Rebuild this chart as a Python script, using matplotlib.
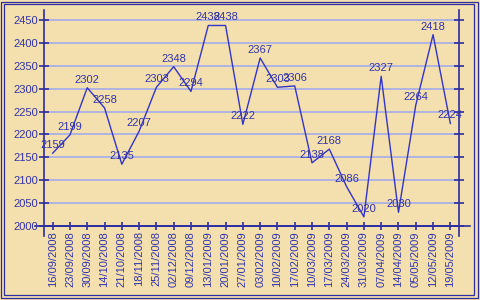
import matplotlib
matplotlib.use('Agg')
import matplotlib.pyplot as plt
from matplotlib.patches import Rectangle

dates = ['16/09/2008', '23/09/2008', '30/09/2008', '14/10/2008', '21/10/2008',
         '18/11/2008', '25/11/2008', '02/12/2008', '09/12/2008', '13/01/2009',
         '20/01/2009', '27/01/2009', '03/02/2009', '10/02/2009', '17/02/2009',
         '10/03/2009', '17/03/2009', '24/03/2009', '31/03/2009', '07/04/2009',
         '14/04/2009', '05/05/2009', '12/05/2009', '19/05/2009']
values = [2159, 2199, 2302, 2258, 2135, 2207, 2303, 2348, 2294, 2438, 2438, 2222,
          2367, 2303, 2306, 2138, 2168, 2086, 2020, 2327, 2030, 2264, 2418, 2224]
yticks = [2000, 2050, 2100, 2150, 2200, 2250, 2300, 2350, 2400, 2450]

plt.rcParams['font.family'] = ['Liberation Sans', 'DejaVu Sans']
TXT = '#3333aa'
AX = '#2d2da0'
LINE = '#3434c8'
GRID = '#aab0e4'
BG = '#f3e0ae'

W, H = 480, 300
fig = plt.figure(figsize=(4.8, 3.0), dpi=100)
fig.patch.set_facecolor(BG)

ax = fig.add_axes([44 / W, 1 - 236 / H, (459 - 44) / W, 226 / H])
ax.set_facecolor('none')
n = len(dates)
xs = list(range(n))
ax.set_xlim(-0.5, n - 0.5)
ax.set_ylim(1978.2, 2471.8)

ax.spines['top'].set_visible(False)
for s in ['left', 'right', 'bottom']:
    ax.spines[s].set_color(AX)
    ax.spines[s].set_linewidth(1.2)
ax.spines['bottom'].set_position(('data', 2000))

# extend x-axis line beyond the plot edges
ax.plot([-1.02, n + 0.14], [2000, 2000], color=AX, lw=1.2, clip_on=False, zorder=3)

ax.set_yticks(yticks)
ax.set_yticklabels([str(v) for v in yticks])
ax.set_xticks(xs)
ax.set_xticklabels(dates, rotation=90)
ax.tick_params(axis='y', left=True, right=True, direction='inout', length=7.2,
               width=1.2, color=AX, labelcolor=TXT, labelsize=8, pad=0.8)
ax.tick_params(axis='x', direction='inout', length=5.8, width=1.2, color=AX,
               labelcolor=TXT, labelsize=8, pad=0.8)

ax.yaxis.grid(True, color=GRID, lw=1.3)
ax.set_axisbelow(True)

ax.plot(xs, values, color=LINE, lw=1.0, zorder=4)
for xi, v in zip(xs, values):
    ax.annotate(str(v), (xi, v), xytext=(0, 2.2), textcoords='offset points',
                ha='center', va='bottom', fontsize=8, color=TXT,
                annotation_clip=False, zorder=5)

# double frame
fig.patches.append(Rectangle((1 / W, 2 / H), 476.5 / W, 296.5 / H, transform=fig.transFigure,
                             fill=False, edgecolor=AX, lw=0.9))
fig.patches.append(Rectangle((3.5 / W, 5.5 / H), 470 / W, 291 / H, transform=fig.transFigure,
                             fill=False, edgecolor=AX, lw=0.9))

fig.savefig('out.png', dpi=100, facecolor=BG)
